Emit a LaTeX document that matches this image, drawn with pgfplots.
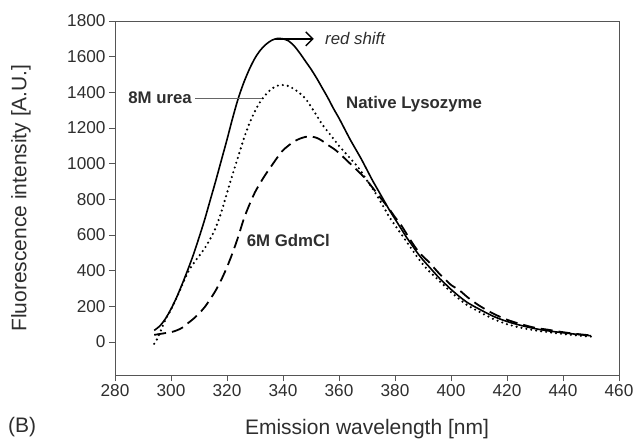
\documentclass[border=0pt]{standalone}
\usepackage{pgfplots}
\pgfplotsset{compat=1.18}
\usepackage{pgfplotstable}
\usepackage{fontspec}
\setmainfont{Liberation Sans}
\usetikzlibrary{arrows.meta}
\definecolor{txt}{HTML}{2E2E2E}
\definecolor{frame}{HTML}{555555}

\pgfplotstableread{
x y
294 65
296 90
298 130
300 185
302 250
304 325
306 405
308 490
310 585
312 685
314 795
316 905
318 1020
320 1135
322 1255
324 1365
326 1455
328 1530
330 1592
332 1638
334 1670
336 1692
338 1702
340 1700
342 1688
344 1660
346 1620
348 1575
350 1530
352 1480
354 1425
356 1370
358 1310
360 1255
362 1195
364 1135
366 1080
368 1025
370 965
372 905
374 850
376 795
378 740
380 690
382 640
384 590
386 545
388 500
390 460
392 425
394 390
396 355
398 325
400 295
403 255
406 220
410 185
415 145
420 115
425 93
430 75
435 62
440 52
445 43
450 35
}\native

\pgfplotstableread{
x y
294 -10
295 15
296 50
298 125
300 182
302 248
304 320
306 390
308 440
310 482
312 525
314 578
316 642
318 730
320 835
322 940
324 1040
326 1140
328 1225
330 1295
332 1350
334 1390
336 1420
338 1437
340 1441
342 1435
344 1418
346 1395
348 1365
350 1320
352 1270
354 1220
356 1180
358 1140
360 1100
362 1065
364 1030
366 995
368 955
370 905
372 860
374 810
376 755
378 700
380 655
382 610
384 565
386 520
388 475
390 435
392 400
394 370
396 340
398 310
400 280
403 240
406 205
410 170
415 130
420 100
425 80
430 65
435 55
440 45
445 37
450 30
}\urea

\pgfplotstableread{
x y
294 40
296 45
298 50
300 55
302 65
304 80
306 105
308 130
310 160
312 195
314 240
316 290
318 350
320 420
322 500
324 590
326 690
328 770
330 840
332 895
334 945
336 990
338 1035
340 1075
342 1102
344 1125
346 1140
348 1150
350 1152
352 1145
354 1128
356 1105
358 1085
360 1060
362 1030
364 1000
366 970
368 940
370 905
372 865
374 825
376 785
378 745
380 700
382 660
384 610
386 560
388 515
390 480
392 450
394 415
396 380
398 350
400 320
403 290
406 250
410 205
415 160
420 125
425 100
430 80
435 68
440 55
445 45
450 37
}\gdm

\begin{document}
\begin{tikzpicture}
\path[use as bounding box] (0,0) rectangle (637pt,442pt);
\begin{axis}[
  at={(115pt,67pt)}, anchor=south west,
  scale only axis, width=504pt, height=354pt,
  xmin=280, xmax=460, ymin=-185, ymax=1800,
  xtick={280,300,...,460}, ytick={0,200,...,1800},
  tick align=outside, tick pos=left, major tick length=6pt,
  axis line style={frame, line width=0.9pt},
  every tick/.style={frame, line width=0.9pt},
  ticklabel style={font=\fontsize{17.2}{19}\selectfont, text=txt},
  /pgf/number format/assume math mode=true,
  /pgf/number format/1000 sep={},
  xlabel={Emission wavelength [nm]},
  ylabel={Fluorescence intensity [A.U.]},
  label style={font=\fontsize{21}{23}\selectfont, text=txt},
  xlabel style={at={(rel axis cs:0.5,0)}, anchor=center, yshift=-54pt},
  ylabel style={at={(rel axis cs:0,0.5)}, anchor=center, yshift=94pt},
  clip=false,
]
\addplot[black, line width=1.6pt, smooth] table[x=x,y=y] {\native};
\addplot[black, line width=2.4pt, smooth, line cap=round, dash pattern=on 0pt off 5pt] table[x=x,y=y] {\urea};
\addplot[black, line width=1.8pt, smooth, dash pattern=on 12pt off 6pt] table[x=x,y=y] {\gdm};

\draw[black, line width=1.4pt, -{Straight Barb[length=7pt,width=14pt,line width=1.4pt]}] (axis cs:337,1700) -- (axis cs:351,1700);
\node[anchor=west, inner sep=0pt, text=txt, font=\fontsize{16.8}{18}\selectfont\itshape] at (axis cs:355,1700) {red shift};
\node[anchor=east, inner sep=0pt, text=txt, font=\fontsize{16.8}{18}\selectfont\bfseries] at (axis cs:307.5,1368) {8M urea};
\draw[gray!80!black, line width=0.7pt] (axis cs:308.6,1368) -- (axis cs:332.5,1368);
\node[anchor=center, inner sep=0pt, text=txt, font=\fontsize{16.8}{18}\selectfont\bfseries] at (axis cs:386.8,1335) {Native Lysozyme};
\node[anchor=west, inner sep=0pt, text=txt, font=\fontsize{16.8}{18}\selectfont\bfseries] at (axis cs:327,567) {6M GdmCl};
\end{axis}
\node[anchor=west, inner sep=0pt, text=txt, font=\fontsize{21}{23}\selectfont] at (8pt,15pt) {(B)};
\end{tikzpicture}
\end{document}
